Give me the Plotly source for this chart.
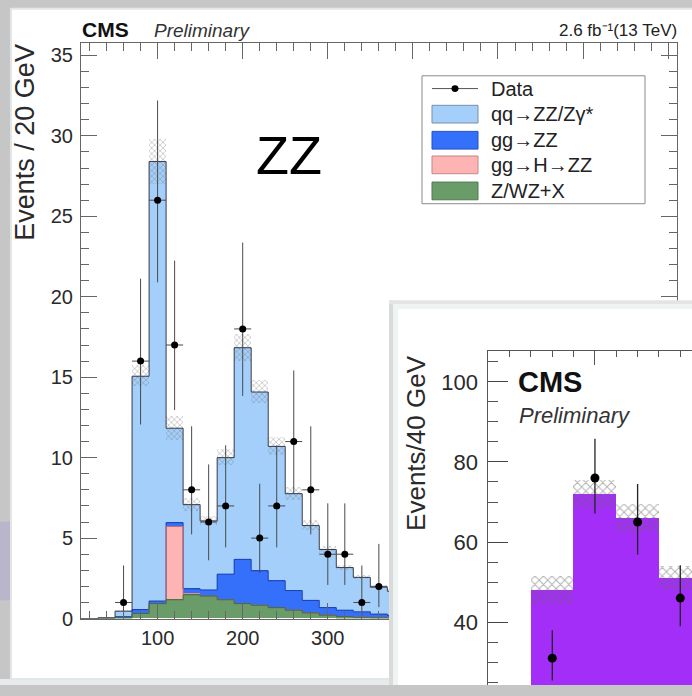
import numpy as np
import plotly.graph_objects as go

W, H = 692, 696

# ---------------- main panel: m4l, Events / 20 GeV ----------------
bin_centers = [20, 40, 60, 80, 100, 120, 140, 160, 180, 200, 220, 240, 260, 280, 300, 320, 340, 360, 380]
zx_vals   = [0, 0.04, 0.06, 0.32, 0.93, 1.17, 1.48, 1.40, 1.17, 0.93, 0.83, 0.68, 0.52, 0.35, 0.21, 0.12, 0.08, 0.05, 0.04]
ggh_vals  = [0, 0, 0, 0, 0, 4.55, 0.05, 0, 0, 0, 0, 0, 0, 0, 0, 0, 0, 0, 0]
ggzz_vals = [0, 0, 0.04, 0.24, 0.16, 0.24, 0.32, 0.38, 1.59, 2.75, 2.14, 1.67, 1.22, 0.78, 0.47, 0.40, 0.34, 0.23, 0.16]
qqzz_vals = [0, 0, 0.36, 14.50, 27.31, 5.87, 5.23, 4.29, 7.24, 13.15, 11.11, 8.35, 6.02, 4.65, 3.61, 2.65, 2.14, 1.67, 1.50]
mc_unc    = [0, 0, 0.05, 0.65, 1.40, 0.75, 0.40, 0.30, 0.50, 0.85, 0.70, 0.55, 0.40, 0.30, 0.22, 0.16, 0.13, 0.10, 0.09]

data_x  = [60, 80, 100, 120, 140, 160, 180, 200, 220, 240, 260, 280, 300, 320, 340, 360]
data_y  = [1, 16, 26, 17, 8, 6, 7, 18, 5, 7, 11, 8, 4, 4, 1, 2]
data_lo = [0.83, 3.94, 5.10, 4.04, 2.77, 2.38, 2.58, 4.16, 2.16, 2.58, 3.26, 2.77, 1.91, 1.91, 0.83, 1.29]
data_hi = [2.30, 5.12, 6.20, 5.25, 3.95, 3.58, 3.77, 5.37, 3.38, 3.77, 4.42, 3.95, 3.16, 3.16, 2.30, 2.64]

x_ticks_labeled = [100, 200, 300]
x_ticks_top_only = [400, 500, 600, 700]

legend_labels = ["Data", "qq\u2192ZZ/Z\u03b3*", "gg\u2192ZZ", "gg\u2192H\u2192ZZ", "Z/WZ+X"]

# ---------------- inset panel: Events / 40 GeV ----------------
inset_centers = [160, 200, 240, 280]
inset_mc      = [48.1, 72.0, 66.1, 51.0]
inset_unc     = [3.5, 3.4, 3.5, 3.0]
inset_data    = [31, 76, 65, 46]
inset_hi      = [7.0, 9.8, 9.5, 8.2]
inset_lo      = [5.6, 8.9, 8.1, 7.0]

C_QQ, C_GG, C_H, C_ZX = "#a3cffa", "#3570fb", "#ffb4b4", "#6a9c6a"
C_PURPLE = "#a32ef8"
FONT = "Liberation Sans, Arial, sans-serif"


def px(x):
    return x / W


def py(y):
    return 1 - y / H


zx = np.array(zx_vals)
ggh = np.array(ggh_vals)
ggzz = np.array(ggzz_vals)
qqzz = np.array(qqzz_vals)
b_h = zx
b_gg = zx + ggh
b_qq = zx + ggh + ggzz
total = b_qq + qqzz
unc = np.array(mc_unc)

fig = go.Figure()

# stacked MC
for vals, base, col in [(qqzz, b_qq, C_QQ), (ggzz, b_gg, C_GG), (ggh, b_h, C_H), (zx, np.zeros_like(zx), C_ZX)]:
    fig.add_trace(go.Bar(x=bin_centers, y=vals, base=base, width=20, marker=dict(color=col, line=dict(width=0)),
                         xaxis="x", yaxis="y", hoverinfo="skip"))

# outlines (step lines)
edges = [c - 10 for c in bin_centers] + [bin_centers[-1] + 10]
for vals, col in [(total, "#3a3a4a"), (b_qq, "#1c3fae"), (b_gg, "#c07070"), (zx, "#3f6a3f")]:
    yy = list(vals) + [vals[-1]]
    fig.add_trace(go.Scatter(x=edges, y=yy, mode="lines", line=dict(color=col, width=1, shape="hv"),
                             xaxis="x", yaxis="y", hoverinfo="skip"))

# MC uncertainty band (hatched)
fig.add_trace(go.Bar(x=bin_centers, y=2 * unc, base=total - unc, width=20,
                     marker=dict(color="rgba(0,0,0,0)", line=dict(width=0),
                                 pattern=dict(shape="x", fgcolor="#6a6a6a", bgcolor="rgba(0,0,0,0)",
                                              size=4, solidity=0.3)),
                     xaxis="x", yaxis="y", hoverinfo="skip"))

# data
fig.add_trace(go.Scatter(x=data_x, y=data_y, mode="markers",
                         marker=dict(color="black", size=7),
                         error_y=dict(type="data", symmetric=False, array=data_hi, arrayminus=data_lo,
                                      color="#4a4a4a", thickness=1, width=0),
                         error_x=dict(type="constant", value=10, color="#4a4a4a", thickness=1, width=0),
                         xaxis="x", yaxis="y", hoverinfo="skip"))

# overlay axis carrying the top-only major ticks
fig.add_trace(go.Scatter(x=[None], y=[None], xaxis="x4", yaxis="y", hoverinfo="skip"))

# card subplot (white panel covering main plot)
fig.add_trace(go.Scatter(x=[None], y=[None], xaxis="x2", yaxis="y2", hoverinfo="skip"))

# inset
fig.add_trace(go.Bar(x=inset_centers, y=inset_mc, width=40, marker=dict(color=C_PURPLE, line=dict(width=0)),
                     xaxis="x3", yaxis="y3", hoverinfo="skip"))
fig.add_trace(go.Bar(x=inset_centers, y=[2 * u for u in inset_unc],
                     base=[m - u for m, u in zip(inset_mc, inset_unc)], width=40,
                     marker=dict(color="rgba(0,0,0,0)", line=dict(width=0),
                                 pattern=dict(shape="x", fgcolor="#646464", bgcolor="rgba(0,0,0,0)",
                                              size=6, solidity=0.3)),
                     xaxis="x3", yaxis="y3", hoverinfo="skip"))
fig.add_trace(go.Scatter(x=inset_centers, y=inset_data, mode="markers",
                         marker=dict(color="black", size=9),
                         error_y=dict(type="data", symmetric=False, array=inset_hi, arrayminus=inset_lo,
                                      color="#222", thickness=1.3, width=0),
                         xaxis="x3", yaxis="y3", hoverinfo="skip"))

axcol = "#666"
tickfont_main = dict(family=FONT, size=20, color="#2a2a2a")

layout = dict(
    width=W, height=H,
    margin=dict(l=0, r=0, t=0, b=0),
    paper_bgcolor="#c6c6c6",
    plot_bgcolor="white",
    showlegend=False,
    barmode="overlay",
    bargap=0,
    xaxis=dict(domain=[px(81), px(676.7)], range=[10, 710], anchor="y",
               showline=True, linecolor=axcol, linewidth=1, mirror="ticks",
               ticks="inside", ticklen=16, tickcolor=axcol, tickwidth=1,
               tickmode="array", tickvals=x_ticks_labeled,
               minor=dict(ticks="inside", ticklen=8, tickcolor=axcol, tickmode="linear", tick0=0, dtick=20),
               showgrid=False, zeroline=False, tickfont=tickfont_main, ticklabelstandoff=1),
    xaxis4=dict(overlaying="x", side="top", anchor="y", range=[10, 710],
                ticks="inside", ticklen=16, tickcolor=axcol, tickwidth=1,
                tickmode="array", tickvals=x_ticks_top_only, showticklabels=False,
                showline=False, showgrid=False, zeroline=False),
    yaxis=dict(domain=[py(628.5), py(44)], range=[0, 35.75], anchor="x",
               showline=True, linecolor=axcol, linewidth=1, mirror="ticks",
               ticks="inside", ticklen=16, tickcolor=axcol, tickwidth=1,
               tickmode="linear", tick0=0, dtick=5,
               minor=dict(ticks="inside", ticklen=8, tickcolor=axcol, tickmode="linear", tick0=0, dtick=1),
               showgrid=False, zeroline=False, tickfont=tickfont_main, ticklabelstandoff=3),
    xaxis2=dict(domain=[px(392), 1], range=[0, 1], anchor="y2", visible=False),
    yaxis2=dict(domain=[0, py(307)], range=[0, 1], anchor="x2", visible=False),
    xaxis3=dict(domain=[px(488.3), 1], range=[100, 291], anchor="y3", side="top",
                showline=True, linecolor="#555", linewidth=1,
                ticks="inside", ticklen=14, tickcolor="#555", tickmode="linear", tick0=0, dtick=100,
                minor=dict(ticks="inside", ticklen=6, tickcolor="#555", tickmode="linear", tick0=0, dtick=20),
                showticklabels=False, showgrid=False, zeroline=False),
    yaxis3=dict(domain=[0, py(356.7)], range=[24.3, 107.7], anchor="x3",
                showline=True, linecolor="#555", linewidth=1,
                ticks="inside", ticklen=20, tickcolor="#444", tickmode="linear", tick0=0, dtick=20,
                minor=dict(ticks="inside", ticklen=10, tickcolor="#555", tickmode="linear", tick0=0, dtick=5),
                showgrid=False, zeroline=False,
                tickfont=dict(family=FONT, size=22, color="#2a2a2a"), ticklabelstandoff=5),
)
fig.update_layout(**layout)

shapes = []
# background / cards
shapes.append(dict(type="rect", xref="paper", yref="paper", x0=px(0), x1=px(692), y0=py(696), y1=py(690),
                   fillcolor="#e7ebeb", line=dict(width=0), layer="below"))
shapes.append(dict(type="rect", xref="paper", yref="paper", x0=px(0), x1=px(10), y0=py(610), y1=py(530),
                   fillcolor="#b9b6cc", line=dict(width=0), layer="below"))
shapes.append(dict(type="rect", xref="paper", yref="paper", x0=px(11), x1=px(700), y0=py(690), y1=py(9),
                   fillcolor="white", line=dict(color="#e2e6e6", width=2), layer="below"))
# inset card border/shadow
shapes.append(dict(type="rect", xref="paper", yref="paper", x0=px(389), x1=px(393), y0=0, y1=py(305),
                   fillcolor="#d9dbdb", line=dict(width=0), layer="above"))
shapes.append(dict(type="rect", xref="paper", yref="paper", x0=px(389), x1=px(692), y0=py(309), y1=py(305),
                   fillcolor="#e3e5e5", line=dict(width=0), layer="above"))
shapes.append(dict(type="rect", xref="paper", yref="paper", x0=px(393), x1=px(398), y0=0, y1=py(309),
                   fillcolor="#eef3f3", line=dict(width=0), layer="above"))
shapes.append(dict(type="rect", xref="paper", yref="paper", x0=px(393), x1=px(692), y0=py(314), y1=py(309),
                   fillcolor="#eef3f3", line=dict(width=0), layer="above"))

# legend box
shapes.append(dict(type="rect", xref="paper", yref="paper", x0=px(422), x1=px(645), y0=py(207), y1=py(77),
                   fillcolor="white", line=dict(color="#8a8a8a", width=1), layer="above"))
# data legend symbol
shapes.append(dict(type="line", xref="paper", yref="paper", x0=px(432), x1=px(478), y0=py(90), y1=py(90),
                   line=dict(color="#555", width=1), layer="above"))
shapes.append(dict(type="circle", xref="paper", yref="paper", x0=px(451.5), x1=px(458.5), y0=py(93.5), y1=py(86.5),
                   fillcolor="black", line=dict(width=0), layer="above"))
sw_centers = [116, 142.5, 167.5, 194]
sw_fill = [C_QQ, C_GG, C_H, C_ZX]
sw_line = ["#7a8fa5", "#2450c8", "#c08888", "#4f7a4f"]
for yc, fc, lc in zip(sw_centers, sw_fill, sw_line):
    shapes.append(dict(type="rect", xref="paper", yref="paper", x0=px(432), x1=px(478),
                       y0=py(yc + 9), y1=py(yc - 9), fillcolor=fc, line=dict(color=lc, width=1), layer="above"))

fig.update_layout(shapes=shapes)

ann = []


def text(x, y, s, size, xanchor="left", color="#111", angle=0, weight="normal", style="normal"):
    ann.append(dict(x=px(x), y=py(y), xref="paper", yref="paper", text=s, showarrow=False,
                    xanchor=xanchor, yanchor="middle", textangle=angle,
                    font=dict(family=FONT, size=size, color=color, weight=weight, style=style)))


text(80, 30, "CMS", 21, weight="bold")
text(152, 31, "Preliminary", 19, color="#333", style="italic")
text(679, 31, "2.6 fb\u207b\u00b9(13 TeV)", 17, xanchor="right", color="#222")
text(289, 157, "ZZ", 54, xanchor="center", color="black")
text(25, 145, "Events / 20 GeV", 27, xanchor="center", angle=-90, color="#2a2a2a")
for lab, yc in zip(legend_labels, [90, 116, 142.5, 167.5, 194]):
    text(489, yc, lab, 20, color="#222")

text(516, 388, "CMS", 29, color="#111", weight="bold")
text(517, 422, "Preliminary", 22, color="#333", style="italic")
text(416, 450, "Events/40 GeV", 26, xanchor="center", angle=-90, color="#2a2a2a")

fig.update_layout(annotations=ann)

fig.write_html("out.html")
